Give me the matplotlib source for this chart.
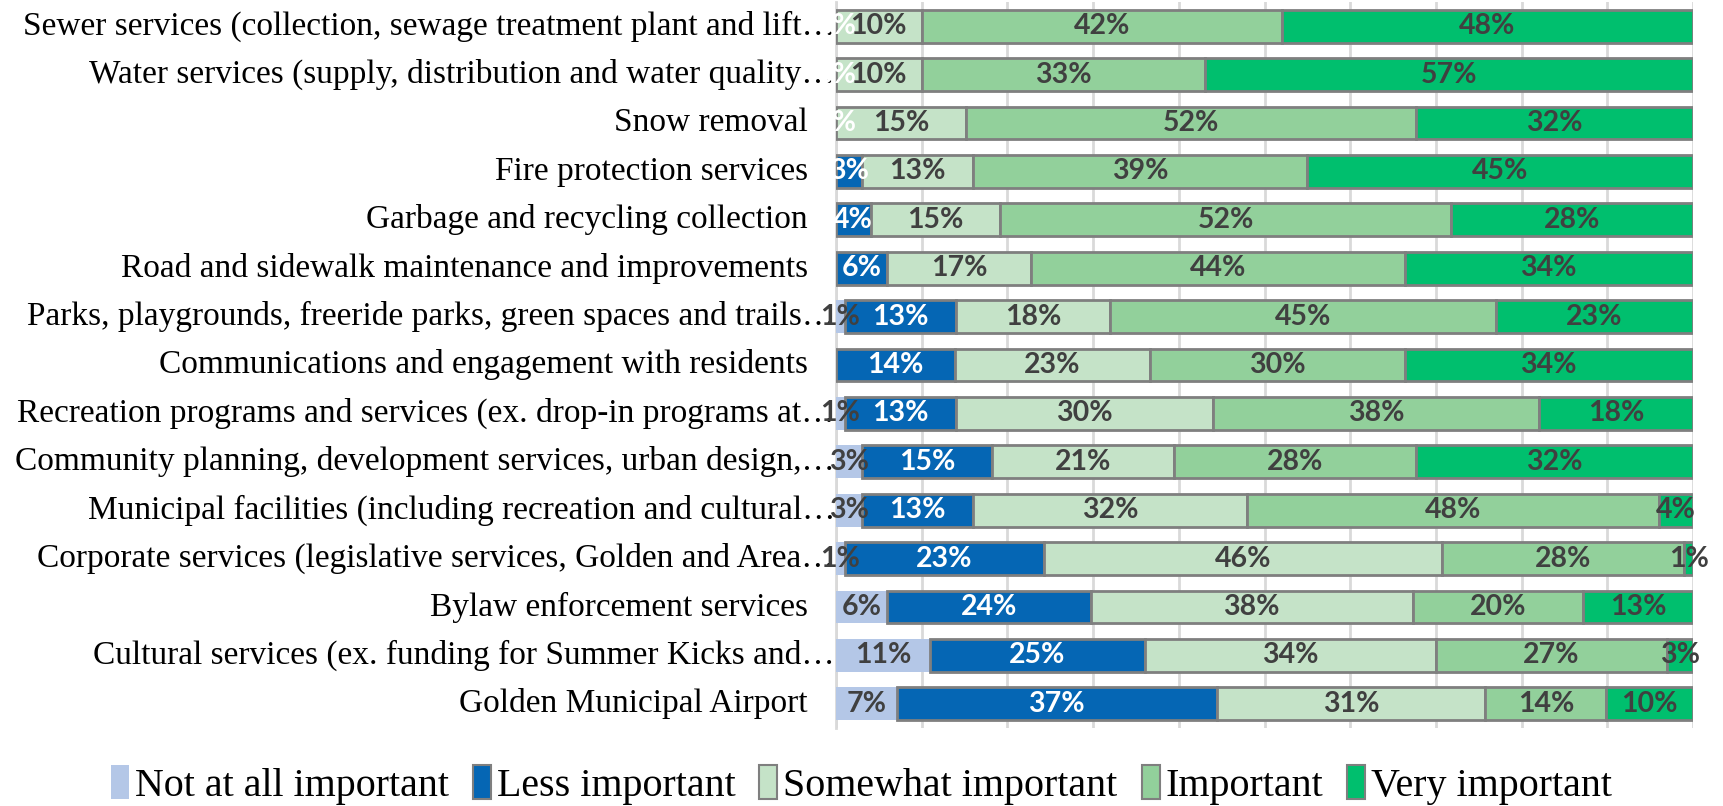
import numpy as np
import matplotlib.pyplot as plt
import matplotlib.transforms as mtransforms
from matplotlib.patches import Patch

# Data (rows top to bottom); None = no answer in that class (no label)
categories = [
    "Sewer services (collection, sewage treatment plant and lift\u2026",
    "Water services (supply, distribution and water quality\u2026",
    "Snow removal",
    "Fire protection services",
    "Garbage and recycling collection",
    "Road and sidewalk maintenance and improvements",
    "Parks, playgrounds, freeride parks, green spaces and trails\u2026",
    "Communications and engagement with residents",
    "Recreation programs and services (ex. drop-in programs at\u2026",
    "Community planning, development services, urban design,\u2026",
    "Municipal facilities (including recreation and cultural\u2026",
    "Corporate services (legislative services, Golden and Area\u2026",
    "Bylaw enforcement services",
    "Cultural services (ex. funding for Summer Kicks and\u2026",
    "Golden Municipal Airport",
]
series = ["Not at all important", "Less important", "Somewhat important",
          "Important", "Very important"]

not_at_all = [None, None, None, None, None, None, 1, None, 1, 3, 3, 1, 6, 11, 7]
less_imp   = [0, 0, 0, 3, 4, 6, 13, 14, 13, 15, 13, 23, 24, 25, 37]
somewhat   = [10, 10, 15, 13, 15, 17, 18, 23, 30, 21, 32, 46, 38, 34, 31]
important  = [42, 33, 52, 39, 52, 44, 45, 30, 38, 28, 48, 28, 20, 27, 14]
very_imp   = [48, 57, 32, 45, 28, 34, 23, 34, 18, 32, 4, 1, 13, 3, 10]

colors = ["#b4c7e7", "#0566b4", "#c5e3c8", "#92d09b", "#00bf6e"]
text_colors = ["#404040", "white", "#404040", "#404040", "#404040"]

raw = [not_at_all, less_imp, somewhat, important, very_imp]
data = np.array([[0 if v is None else v for v in s] for s in raw], dtype=float)
# 100% stacked: each row scaled to its total
shares = data / data.sum(axis=0) * 100

fig = plt.figure(figsize=(17.23, 8.06), dpi=100)
ax = fig.add_axes([0.4852, 0.0968, 0.4974, 0.9007])

y = np.arange(len(categories))
left = np.zeros(len(categories))
for i, name in enumerate(series):
    ec = "none" if i == 0 else "#7f7f7f"
    ax.barh(y, shares[i], left=left, height=0.68, color=colors[i],
            edgecolor=ec, linewidth=2, zorder=3, label=name)
    for r in range(len(categories)):
        if raw[i][r] is None:
            continue
        ax.text(left[r] + shares[i][r] / 2, y[r], f"{raw[i][r]}%",
                ha="center", va="center", color=text_colors[i],
                fontsize=20.5, fontweight="bold", family="Lato",
                zorder=5, clip_on=False)
    left += shares[i]

ax.set_xlim(0, 100)
ax.set_ylim(len(categories) - 0.5, -0.5)
ax.set_xticks(np.arange(0, 101, 10))
ax.xaxis.grid(True, color="#d9d9d9", linewidth=2, zorder=0)
ax.tick_params(axis="x", length=0, labelbottom=False)
ax.set_yticks([])
for s in ["top", "right", "bottom"]:
    ax.spines[s].set_visible(False)
ax.spines["left"].set_color("#d9d9d9")
ax.spines["left"].set_linewidth(2)

# category labels: truncated ones run up to the axis
for r, cat in enumerate(categories):
    dx = -1 if cat.endswith("\u2026") else -28
    tr = ax.get_yaxis_transform() + mtransforms.ScaledTranslation(dx / 100, 0, fig.dpi_scale_trans)
    ax.text(0, r, cat, transform=tr, ha="right", va="center",
            family="Liberation Serif", fontsize=24, color="black", zorder=1)

handles = [Patch(facecolor=colors[i], edgecolor=("none" if i == 0 else "#7f7f7f"),
                 linewidth=1.5, label=series[i]) for i in range(5)]
fig.legend(handles=handles, loc="center", bbox_to_anchor=(0.5, 0.026), ncol=5,
           frameon=False, prop={"family": "Liberation Serif", "size": 28.8},
           handlelength=0.45, handleheight=0.9, handletextpad=0.15,
           columnspacing=0.6)

fig.savefig("out.png", dpi=100)
